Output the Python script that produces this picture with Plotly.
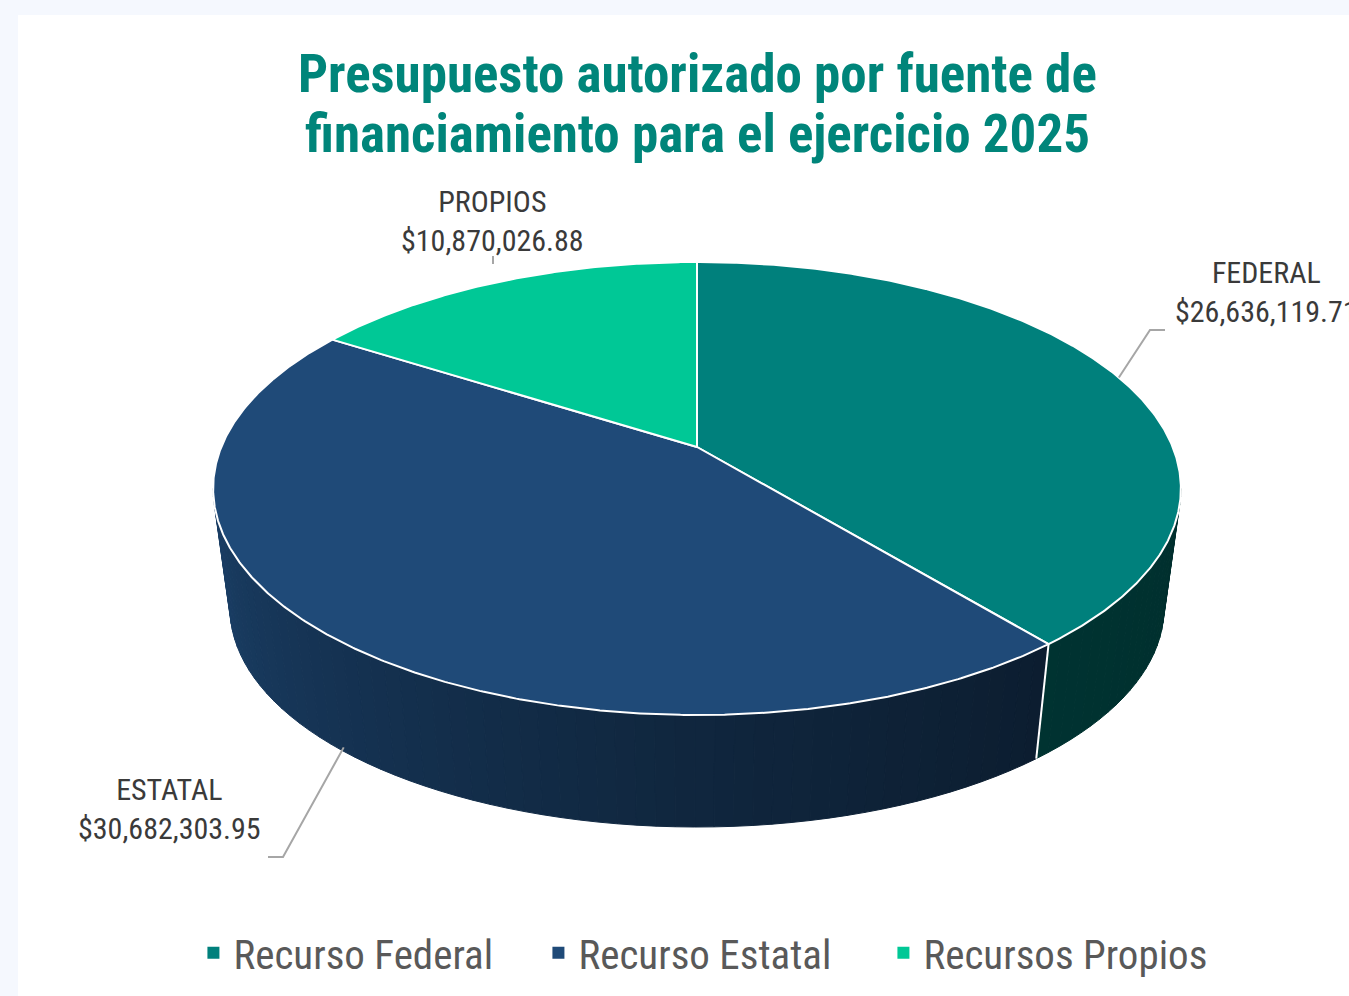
import numpy as np
import plotly.graph_objects as go

# ---- data ----
categories = ["Recurso Federal", "Recurso Estatal", "Recursos Propios"]
short_labels = ["FEDERAL", "ESTATAL", "PROPIOS"]
values = [26636119.71, 30682303.95, 10870026.88]
colors = ["#00807c", "#1f4a78", "#00c896"]
title_lines = ["Presupuesto autorizado por fuente de", "financiamiento para el ejercicio 2025"]

# ---- 3D pie projection (layout geometry) ----
W, H = 1349, 996
CX, CY = 697, 447          # apex of slices on top face
S, T, P = 475.7, 218.9, 0.1832
K, CYB = 0.965, 568.4      # bottom face scale / centre

NARROW = "Liberation Sans Narrow, Arial Narrow, Roboto Condensed, DejaVu Sans Condensed, sans-serif"


def proj(phi_deg, bottom=False):
    phi = np.radians(phi_deg)
    u, v = np.cos(phi), np.sin(phi)
    d = 1 + P * v
    if bottom:
        return CX + K * S * u / d, CYB - K * T * v / d
    return CX + S * u / d, CY - T * v / d


def hex2rgb(h):
    h = h.lstrip("#")
    return tuple(int(h[i:i + 2], 16) for i in (0, 2, 4))


def shade(hexc, phi):
    f = np.interp(phi, [-170, -130, -90, -50, -10], [0.86, 0.68, 0.52, 0.40, 0.37])
    r, g, b = hex2rgb(hexc)
    return "rgb(%d,%d,%d)" % (r * f, g * f, b * f)


total = sum(values)
starts, ends = [], []
a = 90.0
for v in values:
    span = 360.0 * v / total
    starts.append(a)
    ends.append(a - span)
    a -= span

phiL = -180 + np.degrees(np.arcsin(P))
phiR = -np.degrees(np.arcsin(P))

fig = go.Figure()

# side walls
for i, (s0, e0) in enumerate(zip(starts, ends)):
    lo, hi = max(e0, phiL), min(s0, phiR)
    if hi <= lo:
        continue
    n = max(2, int(np.ceil((hi - lo) / 2.0)))
    edges = np.linspace(lo, hi, n + 1)
    for k in range(n):
        ph = np.linspace(edges[k], edges[k + 1], 6)
        xt, yt = proj(ph)
        xb, yb = proj(ph[::-1], bottom=True)
        col = shade(colors[i], 0.5 * (edges[k] + edges[k + 1]))
        fig.add_trace(go.Scatter(
            x=np.concatenate([xt, xb, xt[:1]]), y=np.concatenate([yt, yb, yt[:1]]),
            mode="lines", fill="toself", fillcolor=col,
            line=dict(color=col, width=1), hoverinfo="skip", showlegend=False))

# white vertical edges at slice boundaries on the visible side
for b in ends:
    if phiL < b < phiR:
        x0, y0 = proj(b)
        x1, y1 = proj(b, bottom=True)
        fig.add_trace(go.Scatter(x=[x0, x1], y=[y0, y1], mode="lines",
                                 line=dict(color="white", width=2),
                                 hoverinfo="skip", showlegend=False))

# top faces
for i, (s0, e0) in enumerate(zip(starts, ends)):
    ph = np.linspace(s0, e0, int(abs(s0 - e0) * 3) + 2)
    xs, ys = proj(ph)
    fig.add_trace(go.Scatter(
        x=np.concatenate([[CX], xs, [CX]]), y=np.concatenate([[CY], ys, [CY]]),
        mode="lines", fill="toself", fillcolor=colors[i],
        line=dict(color="white", width=2), name=categories[i],
        hoveron="fills", text="%s: $%s" % (categories[i], format(values[i], ",.2f")),
        hoverinfo="text", showlegend=False))

# legend entries
for i, c in enumerate(categories):
    fig.add_trace(go.Scatter(x=[None], y=[None], mode="markers",
                             marker=dict(symbol="square", size=12, color=colors[i]),
                             name=c, showlegend=True))

# labels + leader lines
mids = [0.5 * (s0 + e0) for s0, e0 in zip(starts, ends)]
label_pos = [(1266, 292), (169, 809), (492, 221)]
annotations = []
for i in range(3):
    annotations.append(dict(
        x=label_pos[i][0], y=label_pos[i][1], xref="x", yref="y",
        text="%s<br>$%s" % (short_labels[i], format(values[i], ",.2f")),
        showarrow=False, align="center", xanchor="center", yanchor="middle",
        font=dict(family=NARROW, size=30, color="#3a3a3a")))

# Federal leader
fx, fy = proj(mids[0])
fig.add_trace(go.Scatter(x=[fx, 1150, 1165], y=[fy, 330, 330], mode="lines",
                         line=dict(color="#a6a6a6", width=2), hoverinfo="skip", showlegend=False))
# Estatal leader (from side, bottom edge)
ex, ey = proj(mids[1], bottom=True)
fig.add_trace(go.Scatter(x=[ex, 283, 268], y=[ey - 4, 857, 857], mode="lines",
                         line=dict(color="#a6a6a6", width=2), hoverinfo="skip", showlegend=False))
# Propios leader
fig.add_trace(go.Scatter(x=[493, 493], y=[256, 264], mode="lines",
                         line=dict(color="#a6a6a6", width=2), hoverinfo="skip", showlegend=False))

# title
for j, (ty, line) in enumerate(zip([74, 134], title_lines)):
    annotations.append(dict(
        x=697, y=ty, xref="x", yref="y", text="<b>%s</b>" % line, showarrow=False,
        xanchor="center", yanchor="middle",
        font=dict(family=NARROW, size=53, color="#00857a")))

fig.update_layout(
    width=W, height=H, margin=dict(l=0, r=0, t=0, b=0),
    paper_bgcolor="#f5f8fe", plot_bgcolor="rgba(0,0,0,0)",
    xaxis=dict(range=[0, W], visible=False, fixedrange=True),
    yaxis=dict(range=[H, 0], visible=False, fixedrange=True),
    shapes=[dict(type="rect", xref="x", yref="y", x0=18, y0=15, x1=W + 5, y1=H + 5,
                 fillcolor="white", line=dict(width=0), layer="below")],
    annotations=annotations,
    showlegend=True,
    legend=dict(orientation="h", x=0.527, xanchor="center", y=1 - 953 / H, yanchor="middle",
                font=dict(family=NARROW, size=41, color="#595959"),
                itemsizing="constant", entrywidth=300, entrywidthmode="pixels",
                bgcolor="rgba(0,0,0,0)"),
)

fig.write_html("out.html", config={"displayModeBar": False},
               post_script="document.body.style.margin='0';document.body.style.overflow='hidden';")
